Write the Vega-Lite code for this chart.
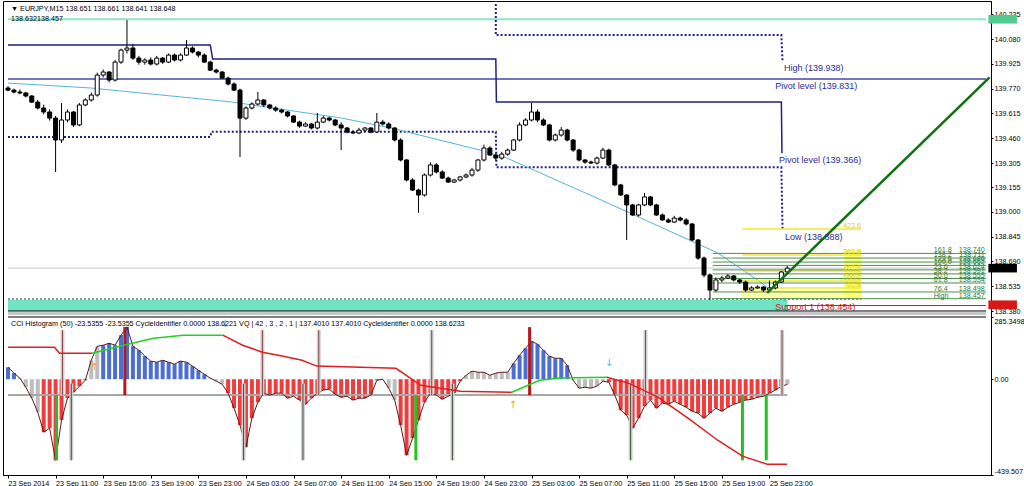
{
"$schema": "https://vega.github.io/schema/vega-lite/v6.json",
"background": "#FFFFFF",
"width": 988,
"height": 474,
"autosize": {"type": "none"},
"padding": {"left": 3, "top": 1, "right": 33, "bottom": 11},
"config": {"view": {"stroke": "#000000", "strokeWidth": 1}, "text": {"font": "Liberation Sans, DejaVu Sans"}},
"datasets": {
"c": [
{"t":0,"o":139.774,"h":139.786,"l":139.755,"c":139.761,"v":55,"s":"b"},
{"t":0.5,"o":139.761,"h":139.770,"l":139.740,"c":139.749,"v":28,"s":"b"},
{"t":1,"o":139.749,"h":139.765,"l":139.735,"c":139.743,"v":5,"s":"g"},
{"t":1.5,"o":139.743,"h":139.750,"l":139.715,"c":139.724,"v":-37,"s":"g"},
{"t":2,"o":139.724,"h":139.730,"l":139.680,"c":139.686,"v":-87,"s":"g"},
{"t":2.5,"o":139.686,"h":139.700,"l":139.640,"c":139.649,"v":-151,"s":"g"},
{"t":3,"o":139.649,"h":139.670,"l":139.610,"c":139.624,"v":-243,"s":"r"},
{"t":3.5,"o":139.624,"h":139.640,"l":139.570,"c":139.586,"v":-225,"s":"r"},
{"t":4,"o":139.586,"h":139.600,"l":139.249,"c":139.449,"v":-372,"s":"r"},
{"t":4.5,"o":139.449,"h":139.680,"l":139.430,"c":139.574,"v":-188,"s":"r"},
{"t":5,"o":139.574,"h":139.640,"l":139.560,"c":139.624,"v":-87,"s":"r"},
{"t":5.5,"o":139.624,"h":139.630,"l":139.530,"c":139.543,"v":-60,"s":"r"},
{"t":6,"o":139.543,"h":139.680,"l":139.535,"c":139.668,"v":-32,"s":"r"},
{"t":6.5,"o":139.668,"h":139.710,"l":139.660,"c":139.699,"v":-5,"s":"r"},
{"t":7,"o":139.699,"h":139.745,"l":139.690,"c":139.730,"v":87,"s":"g"},
{"t":7.5,"o":139.730,"h":139.870,"l":139.720,"c":139.855,"v":151,"s":"g"},
{"t":8,"o":139.855,"h":139.890,"l":139.840,"c":139.874,"v":156,"s":"b"},
{"t":8.5,"o":139.874,"h":139.880,"l":139.810,"c":139.824,"v":165,"s":"b"},
{"t":9,"o":139.824,"h":139.950,"l":139.815,"c":139.936,"v":156,"s":"b"},
{"t":9.5,"o":139.936,"h":140.020,"l":139.925,"c":140.011,"v":202,"s":"b"},
{"t":10,"o":140.011,"h":140.199,"l":139.990,"c":140.024,"v":240,"s":"b"},
{"t":10.5,"o":140.024,"h":140.050,"l":139.950,"c":139.961,"v":151,"s":"b"},
{"t":11,"o":139.961,"h":139.975,"l":139.920,"c":139.936,"v":133,"s":"b"},
{"t":11.5,"o":139.936,"h":139.960,"l":139.920,"c":139.949,"v":106,"s":"b"},
{"t":12,"o":139.949,"h":139.965,"l":139.915,"c":139.924,"v":83,"s":"b"},
{"t":12.5,"o":139.924,"h":139.975,"l":139.915,"c":139.961,"v":78,"s":"b"},
{"t":13,"o":139.961,"h":139.968,"l":139.925,"c":139.936,"v":87,"s":"b"},
{"t":13.5,"o":139.936,"h":139.990,"l":139.930,"c":139.980,"v":78,"s":"b"},
{"t":14,"o":139.980,"h":139.990,"l":139.940,"c":139.949,"v":69,"s":"b"},
{"t":14.5,"o":139.949,"h":139.990,"l":139.940,"c":139.980,"v":83,"s":"b"},
{"t":15,"o":139.980,"h":140.074,"l":139.975,"c":140.024,"v":78,"s":"b"},
{"t":15.5,"o":140.024,"h":140.035,"l":139.990,"c":139.999,"v":60,"s":"b"},
{"t":16,"o":139.999,"h":140.005,"l":139.965,"c":139.980,"v":41,"s":"b"},
{"t":16.5,"o":139.980,"h":139.990,"l":139.930,"c":139.936,"v":23,"s":"b"},
{"t":17,"o":139.936,"h":139.945,"l":139.880,"c":139.886,"v":5,"s":"g"},
{"t":17.5,"o":139.886,"h":139.895,"l":139.865,"c":139.874,"v":-9,"s":"g"},
{"t":18,"o":139.874,"h":139.880,"l":139.830,"c":139.836,"v":-23,"s":"g"},
{"t":18.5,"o":139.836,"h":139.845,"l":139.790,"c":139.799,"v":-64,"s":"r"},
{"t":19,"o":139.799,"h":139.810,"l":139.755,"c":139.761,"v":-133,"s":"r"},
{"t":19.5,"o":139.761,"h":139.770,"l":139.343,"c":139.586,"v":-211,"s":"r"},
{"t":20,"o":139.586,"h":139.660,"l":139.575,"c":139.649,"v":-312,"s":"r"},
{"t":20.5,"o":139.649,"h":139.685,"l":139.640,"c":139.674,"v":-179,"s":"r"},
{"t":21,"o":139.674,"h":139.749,"l":139.665,"c":139.699,"v":-106,"s":"r"},
{"t":21.5,"o":139.699,"h":139.705,"l":139.655,"c":139.668,"v":-64,"s":"r"},
{"t":22,"o":139.668,"h":139.675,"l":139.640,"c":139.649,"v":-73,"s":"r"},
{"t":22.5,"o":139.649,"h":139.660,"l":139.625,"c":139.636,"v":-64,"s":"r"},
{"t":23,"o":139.636,"h":139.645,"l":139.615,"c":139.624,"v":-64,"s":"r"},
{"t":23.5,"o":139.624,"h":139.630,"l":139.590,"c":139.599,"v":-87,"s":"r"},
{"t":24,"o":139.599,"h":139.605,"l":139.555,"c":139.561,"v":-78,"s":"r"},
{"t":24.5,"o":139.561,"h":139.570,"l":139.525,"c":139.536,"v":-96,"s":"r"},
{"t":25,"o":139.536,"h":139.560,"l":139.530,"c":139.549,"v":-115,"s":"r"},
{"t":25.5,"o":139.549,"h":139.555,"l":139.515,"c":139.524,"v":-87,"s":"r"},
{"t":26,"o":139.524,"h":139.618,"l":139.515,"c":139.561,"v":-64,"s":"r"},
{"t":26.5,"o":139.561,"h":139.600,"l":139.555,"c":139.586,"v":-50,"s":"r"},
{"t":27,"o":139.586,"h":139.595,"l":139.565,"c":139.574,"v":-46,"s":"r"},
{"t":27.5,"o":139.574,"h":139.580,"l":139.535,"c":139.543,"v":-69,"s":"r"},
{"t":28,"o":139.543,"h":139.560,"l":139.386,"c":139.524,"v":-83,"s":"r"},
{"t":28.5,"o":139.524,"h":139.530,"l":139.490,"c":139.499,"v":-78,"s":"r"},
{"t":29,"o":139.499,"h":139.510,"l":139.485,"c":139.493,"v":-96,"s":"r"},
{"t":29.5,"o":139.493,"h":139.525,"l":139.485,"c":139.511,"v":-87,"s":"r"},
{"t":30,"o":139.511,"h":139.530,"l":139.500,"c":139.524,"v":-87,"s":"r"},
{"t":30.5,"o":139.524,"h":139.530,"l":139.490,"c":139.499,"v":-73,"s":"r"},
{"t":31,"o":139.499,"h":139.618,"l":139.495,"c":139.561,"v":-5,"s":"r"},
{"t":31.5,"o":139.561,"h":139.575,"l":139.540,"c":139.549,"v":0,"s":"g"},
{"t":32,"o":139.549,"h":139.560,"l":139.515,"c":139.524,"v":-41,"s":"g"},
{"t":32.5,"o":139.524,"h":139.530,"l":139.440,"c":139.449,"v":-96,"s":"g"},
{"t":33,"o":139.449,"h":139.460,"l":139.315,"c":139.324,"v":-211,"s":"r"},
{"t":33.5,"o":139.324,"h":139.330,"l":139.190,"c":139.199,"v":-349,"s":"r"},
{"t":34,"o":139.199,"h":139.210,"l":139.130,"c":139.136,"v":-271,"s":"r"},
{"t":34.5,"o":139.136,"h":139.145,"l":138.993,"c":139.105,"v":-188,"s":"r"},
{"t":35,"o":139.105,"h":139.240,"l":139.095,"c":139.230,"v":-106,"s":"r"},
{"t":35.5,"o":139.230,"h":139.310,"l":139.220,"c":139.293,"v":-64,"s":"r"},
{"t":36,"o":139.293,"h":139.305,"l":139.240,"c":139.249,"v":-73,"s":"r"},
{"t":36.5,"o":139.249,"h":139.260,"l":139.205,"c":139.211,"v":-92,"s":"r"},
{"t":37,"o":139.211,"h":139.220,"l":139.180,"c":139.186,"v":-78,"s":"r"},
{"t":37.5,"o":139.186,"h":139.205,"l":139.180,"c":139.199,"v":-64,"s":"r"},
{"t":38,"o":139.199,"h":139.225,"l":139.190,"c":139.218,"v":-9,"s":"r"},
{"t":38.5,"o":139.218,"h":139.240,"l":139.210,"c":139.230,"v":18,"s":"g"},
{"t":39,"o":139.230,"h":139.275,"l":139.220,"c":139.261,"v":37,"s":"g"},
{"t":39.5,"o":139.261,"h":139.330,"l":139.250,"c":139.324,"v":32,"s":"g"},
{"t":40,"o":139.324,"h":139.420,"l":139.315,"c":139.399,"v":32,"s":"g"},
{"t":40.5,"o":139.399,"h":139.410,"l":139.350,"c":139.355,"v":18,"s":"g"},
{"t":41,"o":139.355,"h":139.365,"l":139.320,"c":139.336,"v":28,"s":"g"},
{"t":41.5,"o":139.336,"h":139.375,"l":139.325,"c":139.361,"v":32,"s":"g"},
{"t":42,"o":139.361,"h":139.395,"l":139.350,"c":139.386,"v":32,"s":"g"},
{"t":42.5,"o":139.386,"h":139.455,"l":139.380,"c":139.449,"v":73,"s":"b"},
{"t":43,"o":139.449,"h":139.560,"l":139.440,"c":139.543,"v":110,"s":"b"},
{"t":43.5,"o":139.543,"h":139.585,"l":139.535,"c":139.574,"v":142,"s":"b"},
{"t":44,"o":139.574,"h":139.680,"l":139.565,"c":139.624,"v":174,"s":"b"},
{"t":44.5,"o":139.624,"h":139.640,"l":139.560,"c":139.574,"v":161,"s":"b"},
{"t":45,"o":139.574,"h":139.585,"l":139.535,"c":139.543,"v":133,"s":"b"},
{"t":45.5,"o":139.543,"h":139.550,"l":139.440,"c":139.449,"v":106,"s":"b"},
{"t":46,"o":139.449,"h":139.490,"l":139.440,"c":139.480,"v":96,"s":"b"},
{"t":46.5,"o":139.480,"h":139.530,"l":139.470,"c":139.511,"v":96,"s":"b"},
{"t":47,"o":139.511,"h":139.520,"l":139.440,"c":139.449,"v":64,"s":"b"},
{"t":47.5,"o":139.449,"h":139.455,"l":139.375,"c":139.386,"v":-5,"s":"g"},
{"t":48,"o":139.386,"h":139.395,"l":139.315,"c":139.324,"v":-41,"s":"g"},
{"t":48.5,"o":139.324,"h":139.330,"l":139.300,"c":139.311,"v":-37,"s":"g"},
{"t":49,"o":139.311,"h":139.320,"l":139.300,"c":139.305,"v":-41,"s":"g"},
{"t":49.5,"o":139.305,"h":139.345,"l":139.295,"c":139.336,"v":-32,"s":"g"},
{"t":50,"o":139.336,"h":139.400,"l":139.330,"c":139.386,"v":-9,"s":"g"},
{"t":50.5,"o":139.386,"h":139.395,"l":139.285,"c":139.293,"v":-14,"s":"r"},
{"t":51,"o":139.293,"h":139.300,"l":139.160,"c":139.168,"v":-73,"s":"r"},
{"t":51.5,"o":139.168,"h":139.175,"l":139.100,"c":139.105,"v":-142,"s":"r"},
{"t":52,"o":139.105,"h":139.110,"l":138.824,"c":139.043,"v":-165,"s":"r"},
{"t":52.5,"o":139.043,"h":139.050,"l":138.975,"c":138.980,"v":-225,"s":"r"},
{"t":53,"o":138.980,"h":139.050,"l":138.970,"c":139.043,"v":-179,"s":"r"},
{"t":53.5,"o":139.043,"h":139.118,"l":139.035,"c":139.093,"v":-124,"s":"r"},
{"t":54,"o":139.093,"h":139.100,"l":139.035,"c":139.043,"v":-96,"s":"r"},
{"t":54.5,"o":139.043,"h":139.050,"l":138.975,"c":138.980,"v":-133,"s":"r"},
{"t":55,"o":138.980,"h":138.990,"l":138.945,"c":138.949,"v":-110,"s":"r"},
{"t":55.5,"o":138.949,"h":138.960,"l":138.930,"c":138.936,"v":-115,"s":"r"},
{"t":56,"o":138.936,"h":138.975,"l":138.930,"c":138.961,"v":-101,"s":"r"},
{"t":56.5,"o":138.961,"h":138.970,"l":138.940,"c":138.949,"v":-115,"s":"r"},
{"t":57,"o":138.949,"h":138.960,"l":138.915,"c":138.924,"v":-129,"s":"r"},
{"t":57.5,"o":138.924,"h":138.930,"l":138.815,"c":138.824,"v":-147,"s":"r"},
{"t":58,"o":138.824,"h":138.830,"l":138.700,"c":138.711,"v":-156,"s":"r"},
{"t":58.5,"o":138.711,"h":138.720,"l":138.590,"c":138.605,"v":-179,"s":"r"},
{"t":59,"o":138.605,"h":138.615,"l":138.449,"c":138.511,"v":-156,"s":"r"},
{"t":59.5,"o":138.511,"h":138.590,"l":138.500,"c":138.574,"v":-133,"s":"r"},
{"t":60,"o":138.574,"h":138.600,"l":138.560,"c":138.586,"v":-147,"s":"r"},
{"t":60.5,"o":138.586,"h":138.610,"l":138.580,"c":138.599,"v":-129,"s":"r"},
{"t":61,"o":138.599,"h":138.605,"l":138.565,"c":138.574,"v":-115,"s":"r"},
{"t":61.5,"o":138.574,"h":138.580,"l":138.550,"c":138.561,"v":-106,"s":"r"},
{"t":62,"o":138.561,"h":138.570,"l":138.500,"c":138.511,"v":-96,"s":"r"},
{"t":62.5,"o":138.511,"h":138.535,"l":138.505,"c":138.524,"v":-92,"s":"r"},
{"t":63,"o":138.524,"h":138.540,"l":138.520,"c":138.530,"v":-83,"s":"r"},
{"t":63.5,"o":138.530,"h":138.535,"l":138.500,"c":138.511,"v":-78,"s":"r"},
{"t":64,"o":138.511,"h":138.570,"l":138.505,"c":138.524,"v":-64,"s":"r"},
{"t":64.5,"o":138.524,"h":138.570,"l":138.515,"c":138.561,"v":-50,"s":"r"},
{"t":65,"o":138.561,"h":138.630,"l":138.555,"c":138.624,"v":-32,"s":"r"},
{"t":65.5,"o":138.624,"h":138.661,"l":138.615,"c":138.648,"v":-24,"s":"g"}
],
"fibg": [
{"t":59.23,"t2":82.2,"p":138.740,"lv":"161.8","pv":"138.740"},
{"t":59.23,"t2":82.2,"p":138.711,"lv":"138.2","pv":"138.711"},
{"t":59.23,"t2":82.2,"p":138.686,"lv":"123.6","pv":"138.686"},
{"t":59.23,"t2":82.2,"p":138.665,"lv":"100.0","pv":"138.662"},
{"t":59.23,"t2":82.2,"p":138.637,"lv":"23.6","pv":"138.624"},
{"t":59.23,"t2":82.2,"p":138.612,"lv":"38.2","pv":"138.591"},
{"t":59.23,"t2":82.2,"p":138.583,"lv":"50.0","pv":"138.555"},
{"t":59.23,"t2":82.2,"p":138.555,"lv":"61.8","pv":"138.534"},
{"t":59.23,"t2":82.2,"p":138.499,"lv":"76.4","pv":"138.498"},
{"t":59.23,"t2":82.2,"p":138.457,"lv":"High","pv":"138.457"}
],
"yfib": [
{"t":61.73,"t2":71.7,"p":138.893,"txt":"423.6"},
{"t":61.73,"t2":71.7,"p":138.730,"txt":"261.8"},
{"t":61.73,"t2":71.7,"p":138.630,"txt":"161.8"},
{"t":61.73,"t2":71.7,"p":138.568,"txt":"100.0"},
{"t":61.73,"t2":71.7,"p":138.524,"txt":"61.8"}
],
"spk": [
{"t":4.58,"v":-73,"v2":225,"k":"up"},{"t":21.38,"v":-73,"v2":225,"k":"up"},{"t":26.12,"v":-73,"v2":225,"k":"up"},
{"t":35.61,"v":-73,"v2":225,"k":"up"},{"t":53.58,"v":-73,"v2":225,"k":"up"},{"t":65.06,"v":-73,"v2":225,"k":"up"},
{"t":5.32,"v":-20,"v2":-372,"k":"dn"},{"t":19.8,"v":-20,"v2":-372,"k":"dn"},{"t":24.79,"v":-20,"v2":-372,"k":"dn"},
{"t":37.35,"v":-20,"v2":-372,"k":"dn"},{"t":52.33,"v":-20,"v2":-372,"k":"dn"},
{"t":4.08,"v":-73,"v2":-372,"k":"gr"},{"t":34.28,"v":-73,"v2":-372,"k":"gr"},{"t":61.73,"v":-73,"v2":-372,"k":"gr"},{"t":63.73,"v":-73,"v2":-372,"k":"gr"},
{"t":9.82,"v":-73,"v2":239,"k":"rd"},{"t":43.84,"v":-73,"v2":239,"k":"rd"}
],
"seg": [
{"t":0,"v":147,"g":"r1","k":"r"},{"t":3.91,"v":147,"g":"r1","k":"r"},{"t":4.33,"v":119,"g":"r1","k":"r"},{"t":7.07,"v":119,"g":"r1","k":"r"},
{"t":7.07,"v":119,"g":"g1","k":"g"},{"t":9.73,"v":156,"g":"g1","k":"g"},{"t":12.23,"v":188,"g":"g1","k":"g"},{"t":14.73,"v":202,"g":"g1","k":"g"},{"t":18.05,"v":202,"g":"g1","k":"g"},
{"t":18.05,"v":202,"g":"r2","k":"r"},{"t":19.72,"v":156,"g":"r2","k":"r"},{"t":21.38,"v":124,"g":"r2","k":"r"},{"t":23.04,"v":106,"g":"r2","k":"r"},{"t":24.71,"v":87,"g":"r2","k":"r"},{"t":25.96,"v":60,"g":"r2","k":"r"},{"t":32.61,"v":50,"g":"r2","k":"r"},{"t":34.69,"v":-28,"g":"r2","k":"r"},{"t":38.02,"v":-55,"g":"r2","k":"r"},{"t":42.35,"v":-60,"g":"r2","k":"r"},
{"t":42.35,"v":-60,"g":"g2","k":"g"},{"t":44.68,"v":-5,"g":"g2","k":"g"},{"t":46.34,"v":5,"g":"g2","k":"g"},{"t":50.33,"v":9,"g":"g2","k":"g"},
{"t":50.33,"v":9,"g":"r3","k":"r"},{"t":52.16,"v":-18,"g":"r3","k":"r"},{"t":54.66,"v":-83,"g":"r3","k":"r"},{"t":57.15,"v":-179,"g":"r3","k":"r"},{"t":59.65,"v":-280,"g":"r3","k":"r"},{"t":61.73,"v":-353,"g":"r3","k":"r"},{"t":63.81,"v":-390,"g":"r3","k":"r"},{"t":65.47,"v":-390,"g":"r3","k":"r"}
]
},
"resolve": {"scale": {"y": "independent"}, "axis": {"y": "independent"}},
"encoding": {
"x": {"field": "t", "type": "quantitative", "scale": {"domain": [0, 82.2]},
"axis": {"orient": "bottom", "values": [0,4,8,12,16,20,24,28,32,36,40,44,48,52,56,60,64], "labelExpr": "datum.value == 0 ? '23 Sep 2014' : (23 + floor((datum.value + 7) / 24)) + ' Sep ' + (((datum.value + 7) % 24) < 10 ? '0' : '') + ((datum.value + 7) % 24) + ':00'", "title": null, "grid": false, "tickSize": 3, "tickColor": "#000000", "domainColor": "#000000", "labelAlign": "left", "labelBaseline": "top", "labelPadding": 1, "labelFontSize": 7.2, "labelFont": "Liberation Sans", "labelColor": "#000000", "labelFlush": false, "labelOverlap": false}}
},
"layer": [
{
"encoding": {
"y": {"field": "p", "type": "quantitative", "scale": {"domain": [138.38, 140.318], "range": [310, 0], "nice": false, "zero": false},
"axis": {"orient": "right", "values": [138.38,138.535,138.69,138.845,139,139.155,139.305,139.46,139.615,139.77,139.925,140.08,140.235], "format": ".3f", "title": null, "grid": false, "tickSize": 2, "labelPadding": 1, "labelFontSize": 7.2, "labelFont": "Liberation Sans", "labelColor": "#000000", "domainColor": "#000000", "tickColor": "#000000", "labelFlush": false, "labelOverlap": false}}
},
"layer": [
{"data": {"values": [{"t":0,"t2":65.5,"p":138.38,"p2":138.449}]}, "mark": {"type": "rect", "color": "#6FE3C4"}, "encoding": {"x2": {"field": "t2"}, "y2": {"field": "p2"}}},
{"data": {"values": [{"t":0,"t2":82.2,"p":140.204}]}, "mark": {"type": "rule", "color": "#8EE3CD", "strokeWidth": 2}, "encoding": {"x2": {"field": "t2"}}},
{"data": {"values": [{"t":0,"t2":82.2,"p":138.648}]}, "mark": {"type": "rule", "color": "#C8C8C8"}, "encoding": {"x2": {"field": "t2"}}},
{"data": {"values": [{"t":0,"t2":71.7,"p":138.455}]}, "mark": {"type": "rule", "color": "#222222", "strokeDash": [2,2]}, "encoding": {"x2": {"field": "t2"}}},
{"data": {"values": [{"t":65.3,"t2":82.2,"p":138.414}]}, "mark": {"type": "rule", "color": "#D01818"}, "encoding": {"x2": {"field": "t2"}}},
{"data": {"values": [{"t":0,"t2":82.2,"p":139.831}]}, "mark": {"type": "rule", "color": "#4646A8", "strokeWidth": 1.5}, "encoding": {"x2": {"field": "t2"}}},
{"data": {"values": [{"n":0,"t":0,"p":140.043},{"n":1,"t":17,"p":140.043},{"n":2,"t":17.2,"p":139.955},{"n":3,"t":41,"p":139.955},{"n":4,"t":41.05,"p":139.686},{"n":5,"t":65,"p":139.686},{"n":6,"t":65.05,"p":139.366}]},
 "mark": {"type": "line", "color": "#1F1F88", "strokeWidth": 1.5}, "encoding": {"order": {"field": "n", "type": "quantitative"}}},
{"data": {"values": [{"g":"h","n":0,"t":41,"p":140.4},{"g":"h","n":1,"t":41,"p":140.105},{"g":"h","n":2,"t":65,"p":140.105},{"g":"h","n":3,"t":65.1,"p":139.938},
 {"g":"l","n":0,"t":0,"p":139.468},{"g":"l","n":1,"t":17,"p":139.468},{"g":"l","n":2,"t":17.1,"p":139.501},{"g":"l","n":3,"t":41,"p":139.501},{"g":"l","n":4,"t":41.05,"p":139.278},{"g":"l","n":5,"t":65,"p":139.278},{"g":"l","n":6,"t":65.1,"p":138.888}]},
 "mark": {"type": "line", "color": "#1F1F88", "strokeDash": [2,2], "clip": true}, "encoding": {"detail": {"field": "g"}, "order": {"field": "n", "type": "quantitative"}}},
{"data": {"values": [{"t":0,"p":139.805},{"t":6.99,"p":139.774},{"t":18.89,"p":139.686},{"t":28.04,"p":139.586},{"t":32.2,"p":139.524},{"t":39.68,"p":139.386},{"t":41.93,"p":139.336},{"t":49.67,"p":139.08},{"t":59.65,"p":138.743},{"t":62.98,"p":138.574},{"t":65.5,"p":138.436}]},
 "mark": {"type": "line", "color": "#56B6DA", "strokeWidth": 1}},
{"data": {"values": [{"t":61.7,"t2":71.7,"p":138.461,"p2":138.511}]}, "mark": {"type": "rect", "color": "#FFFFA8"}, "encoding": {"x2": {"field": "t2"}, "y2": {"field": "p2"}}},
{"data": {"values": [{"t":70.3,"t2":71.7,"p":138.461,"p2":138.765}]}, "mark": {"type": "rect", "color": "#FFFF70"}, "encoding": {"x2": {"field": "t2"}, "y2": {"field": "p2"}}},
{"data": {"name": "yfib"}, "mark": {"type": "rule", "color": "#F2E830", "strokeWidth": 1.5}, "encoding": {"x2": {"field": "t2"}}},
{"data": {"name": "fibg"}, "mark": {"type": "rule", "color": "#4F8F4F", "strokeWidth": 1}, "encoding": {"x2": {"field": "t2"}}},
{"data": {"name": "c"}, "mark": {"type": "rule", "color": "#000000"},
 "encoding": {"y": {"field": "l", "type": "quantitative", "scale": {"domain": [138.38, 140.318], "range": [310, 0], "nice": false, "zero": false}, "axis": {"orient": "right", "values": [138.38,138.535,138.69,138.845,139,139.155,139.305,139.46,139.615,139.77,139.925,140.08,140.235], "format": ".3f", "title": null, "grid": false, "tickSize": 2, "labelPadding": 1, "labelFontSize": 7.2, "labelFont": "Liberation Sans", "labelColor": "#000000", "domainColor": "#000000", "tickColor": "#000000", "labelFlush": false, "labelOverlap": false}}, "y2": {"field": "h"}}},
{"data": {"name": "c"}, "mark": {"type": "bar", "width": 4, "stroke": "#000000", "strokeWidth": 1},
 "encoding": {"y": {"field": "o", "type": "quantitative", "scale": {"domain": [138.38, 140.318], "range": [310, 0], "nice": false, "zero": false}, "axis": {"orient": "right", "values": [138.38,138.535,138.69,138.845,139,139.155,139.305,139.46,139.615,139.77,139.925,140.08,140.235], "format": ".3f", "title": null, "grid": false, "tickSize": 2, "labelPadding": 1, "labelFontSize": 7.2, "labelFont": "Liberation Sans", "labelColor": "#000000", "domainColor": "#000000", "tickColor": "#000000", "labelFlush": false, "labelOverlap": false}}, "y2": {"field": "c"},
  "fill": {"condition": {"test": "datum.c > datum.o", "value": "#FFFFFF"}, "value": "#000000"}}},
{"data": {"values": [{"t":63.81,"p":138.493},{"t":82.5,"p":139.84}]}, "mark": {"type": "line", "color": "#0E700E", "strokeWidth": 2.5, "clip": true}},
{"data": {"values": [{"t":65.22,"p":139.899,"txt":"High (139.938)"},{"t":64.48,"p":139.786,"txt":"Pivot level (139.831)"},{"t":64.81,"p":139.324,"txt":"Pivot level (139.366)"},{"t":65.3,"p":138.843,"txt":"Low (138.888)"}]},
 "mark": {"type": "text", "align": "left", "baseline": "middle", "font": "Liberation Sans", "fontSize": 9, "color": "#2B2B9A"}, "encoding": {"text": {"field": "txt"}}},
{"data": {"values": [{"t":64.48,"p":138.405,"txt":"Support 1 (138.454)"}]},
 "mark": {"type": "text", "align": "left", "baseline": "middle", "font": "Liberation Sans", "fontSize": 9, "color": "#D01818"}, "encoding": {"text": {"field": "txt"}}},
{"data": {"name": "yfib"}, "mark": {"type": "text", "align": "right", "baseline": "bottom", "dy": 1, "fontSize": 7.2, "color": "#E0D000"},
 "encoding": {"x": {"datum": 71.7, "type": "quantitative"}, "text": {"field": "txt"}}},
{"data": {"name": "fibg"}, "mark": {"type": "text", "align": "left", "baseline": "bottom", "dy": 1, "fontSize": 7.2, "color": "#2E7D2E"},
 "encoding": {"x": {"datum": 77.8, "type": "quantitative"}, "text": {"field": "lv"}}},
{"data": {"name": "fibg"}, "mark": {"type": "text", "align": "right", "baseline": "bottom", "dy": 1, "fontSize": 7.2, "color": "#2E7D2E"},
 "encoding": {"x": {"datum": 82.1, "type": "quantitative"}, "text": {"field": "pv"}}},
{"data": {"values": [{"t":0.25,"p":140.268,"txt":"▼ EURJPY,M15  138.651 138.661 138.641 138.648"},{"t":0.25,"p":140.203,"txt":"138.632138.457"}]},
 "mark": {"type": "text", "align": "left", "baseline": "middle", "fontSize": 7.2, "color": "#000000"}, "encoding": {"text": {"field": "txt"}}},
{"data": {"values": [{"t":82.4,"t2":84.8,"p":140.177,"p2":140.231}]}, "mark": {"type": "rect", "color": "#4FCB90"}, "encoding": {"x2": {"field": "t2"}, "y2": {"field": "p2"}}},
{"data": {"values": [{"t":82.4,"t2":84.8,"p":138.621,"p2":138.675}]}, "mark": {"type": "rect", "color": "#000000"}, "encoding": {"x2": {"field": "t2"}, "y2": {"field": "p2"}}},
{"data": {"values": [{"t":82.4,"t2":84.8,"p":138.392,"p2":138.446}]}, "mark": {"type": "rect", "color": "#D81818"}, "encoding": {"x2": {"field": "t2"}, "y2": {"field": "p2"}}},
{"data": {"values": [{"p":140.204,"txt":"140.204"},{"p":138.648,"txt":"138.648"},{"p":138.419,"txt":"138.419"}]},
 "mark": {"type": "text", "align": "center", "baseline": "middle", "fontSize": 7.2, "color": "#FFFFFF"},
 "encoding": {"x": {"datum": 83.6, "type": "quantitative"}, "text": {"field": "txt"}}}
]
},
{
"encoding": {
"y": {"field": "v", "type": "quantitative", "scale": {"domain": [-439.507, 285.3498], "range": [474, 316], "nice": false, "zero": false},
"axis": {"orient": "right", "values": [-439.507, 0, 285.3498], "labelExpr": "datum.value == 0 ? '0.00' : (datum.value > 0 ? '285.3498' : '-439.507')", "title": null, "grid": false, "tickSize": 2, "labelPadding": 1, "labelFontSize": 7.2, "labelFont": "Liberation Sans", "labelColor": "#000000", "tickColor": "#000000", "domainColor": "#000000", "labelFlush": true, "labelOverlap": false}}
},
"layer": [
{"data": {"values": [{"t":0,"t2":82.2,"v":285.35,"v2":312.9}]}, "mark": {"type": "rect", "color": "#FFFFFF"}, "encoding": {"x2": {"field": "t2"}, "y2": {"field": "v2"}}},
{"data": {"values": [{"t":0,"t2":82.2,"v":294.5,"v2":308.3}]}, "mark": {"type": "rect", "color": "#C8C8C8"}, "encoding": {"x2": {"field": "t2"}, "y2": {"field": "v2"}}},
{"data": {"values": [{"t":0,"t2":82.2,"v":312.9},{"t":0,"t2":82.2,"v":285.35}]}, "mark": {"type": "rule", "color": "#000000"}, "encoding": {"x2": {"field": "t2"}}},
{"data": {"name": "c"}, "mark": {"type": "rule", "strokeWidth": 4},
 "encoding": {"y2": {"datum": 0}, "color": {"field": "s", "type": "nominal", "scale": {"domain": ["b","g","r"], "range": ["#4A6ED2","#BDBDBD","#F03C3C"]}, "legend": null}}},
{"data": {"values": [{"t":0,"t2":65.5,"v":-73}]}, "mark": {"type": "rule", "color": "#A8A8A8", "strokeWidth": 2}, "encoding": {"x2": {"field": "t2"}}},
{"data": {"name": "c"}, "mark": {"type": "line", "color": "#5C1A1A", "strokeWidth": 1}},
{"data": {"name": "spk"}, "transform": [{"filter": "datum.k == 'up' || datum.k == 'dn'"}], "mark": {"type": "rule", "color": "#CFCFCF", "strokeWidth": 4}, "encoding": {"y2": {"field": "v2"}}},
{"data": {"name": "spk"}, "transform": [{"filter": "datum.k == 'up'"}], "mark": {"type": "rule", "color": "#8B4848", "strokeWidth": 1}, "encoding": {"y2": {"field": "v2"}}},
{"data": {"name": "spk"}, "transform": [{"filter": "datum.k == 'dn'"}], "mark": {"type": "rule", "color": "#3F4F3F", "strokeWidth": 1}, "encoding": {"y2": {"field": "v2"}}},
{"data": {"name": "spk"}, "transform": [{"filter": "datum.k == 'gr'"}], "mark": {"type": "rule", "color": "#1FC41F", "strokeWidth": 3}, "encoding": {"y2": {"field": "v2"}}},
{"data": {"name": "spk"}, "transform": [{"filter": "datum.k == 'rd'"}], "mark": {"type": "rule", "color": "#B41A1A", "strokeWidth": 3}, "encoding": {"y2": {"field": "v2"}}},
{"data": {"name": "seg"}, "transform": [{"filter": "datum.k == 'r'"}], "mark": {"type": "line", "color": "#E01E1E", "strokeWidth": 1.5}, "encoding": {"detail": {"field": "g"}}},
{"data": {"name": "seg"}, "transform": [{"filter": "datum.k == 'g'"}], "mark": {"type": "line", "color": "#22D022", "strokeWidth": 1.5}, "encoding": {"detail": {"field": "g"}}},
{"data": {"values": [{"t":7.24,"v":55,"txt":"↑"},{"t":42.43,"v":-119,"txt":"↑"}]}, "mark": {"type": "text", "font": "DejaVu Sans", "fontSize": 10, "color": "#FFA020"}, "encoding": {"text": {"field": "txt"}}},
{"data": {"values": [{"t":50.5,"v":73,"txt":"↓"},{"t":18.22,"v":252,"txt":"↓"}]}, "mark": {"type": "text", "font": "DejaVu Sans", "fontSize": 10, "color": "#40C8E8"}, "encoding": {"text": {"field": "txt"}}},
{"data": {"values": [{"t":0.25,"v":252,"txt":"CCI Histogram (50) -23.5355 -23.5355  CycleIdentifier 0.0000 138.6221  VQ |  42 , 3 , 2 , 1  |  137.4010 137.4010  CycleIdentifier 0.0000 138.6233"}]},
 "mark": {"type": "text", "align": "left", "baseline": "middle", "fontSize": 7.2, "color": "#000000"}, "encoding": {"text": {"field": "txt"}}}
]
}
]
}
